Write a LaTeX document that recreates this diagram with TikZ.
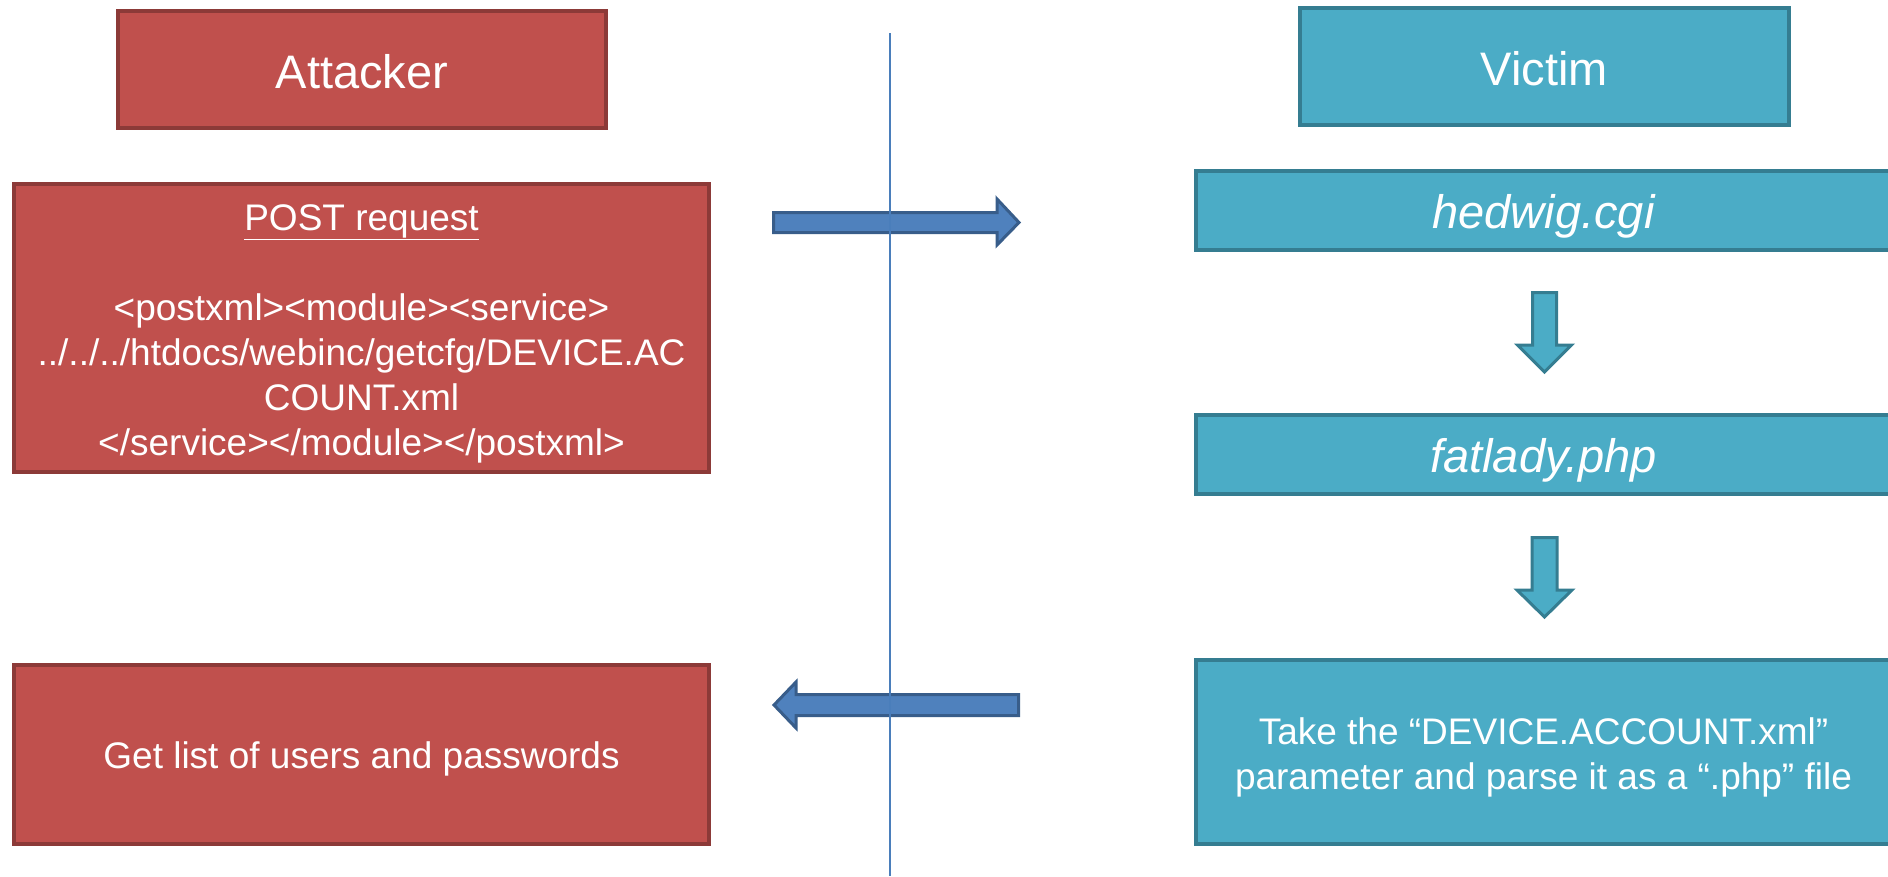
\documentclass[tikz,border=0pt]{standalone}
\usepackage{fontspec}
\setmainfont{Liberation Sans}
\definecolor{redfill}{HTML}{C0504D}
\definecolor{redline}{HTML}{8C3A38}
\definecolor{bluefill}{HTML}{4BACC6}
\definecolor{blueline}{HTML}{357D91}
\definecolor{arrfill}{HTML}{4F81BD}
\definecolor{arrline}{HTML}{385D8A}
\definecolor{sepline}{HTML}{4A7EBB}
\newcommand\fnbig{\fontsize{47}{56}\selectfont}
\newcommand\fnbody{\fontsize{37}{45}\selectfont}
\tikzset{
  redbox/.style={draw=redline, fill=redfill, line width=4pt, text=white, inner sep=0pt, align=center, text depth=0pt},
  bluebox/.style={draw=blueline, fill=bluefill, line width=4pt, text=white, inner sep=0pt, align=center, text depth=0pt},
  sideflow/.style={draw=arrline, fill=arrfill, line width=3pt, line join=miter},
  downflow/.style={draw=blueline, fill=bluefill, line width=3pt, line join=miter},
  divider/.style={draw=sepline, line width=1.5pt}
}
\begin{document}
\begin{tikzpicture}[x=1pt,y=-1pt]
\useasboundingbox (0,0) rectangle (1888,876);
\clip (0,0) rectangle (1888,876);
% left column
\node[redbox, minimum width=488pt, minimum height=117pt, font=\fnbig, text height=37.5pt] (att) at (362,69.5) {Attacker};
\node[redbox, minimum width=695pt, minimum height=288pt, font=\fnbody, text height=255pt] (post) at (361.5,328)
  {\underline{POST request}\\[45pt] <postxml><module><service>\\ ../../../htdocs/webinc/getcfg/DEVICE.AC\\ COUNT.xml\\ </service></module></postxml>};
\node[redbox, minimum width=695pt, minimum height=179pt, font=\fnbody, text height=27.6pt] (get) at (361.5,754.5) {Get list of users and passwords};
% right column
\node[bluebox, minimum width=489pt, minimum height=117pt, font=\fnbig, text height=37pt] (vic) at (1544.5,66.5) {Victim};
\node[bluebox, minimum width=695pt, minimum height=79pt, font=\fnbig\itshape, text height=36.5pt] (hed) at (1543.5,210) {hedwig.cgi};
\node[bluebox, minimum width=695pt, minimum height=79pt, font=\fnbig\itshape, text height=37pt] (fat) at (1543.5,454) {fatlady.php};
\node[bluebox, minimum width=695pt, minimum height=184pt, font=\fnbody, text height=75.8pt] (take) at (1543.5,752)
  {Take the “DEVICE.ACCOUNT.xml”\\ parameter and parse it as a “.php” file};
% block arrows
\coordinate (ra) at (773.5,222.5);
\draw[sideflow] (ra) ++(0,-10) -- ++(223.5,0) -- ++(0,-13.5) -- (1019,222.5) -- (997,245) -- ++(0,-12.5) -- ++(-223.5,0) -- cycle;
\coordinate (la) at (1018.5,705);
\draw[sideflow] (la) ++(0,-10.5) -- ++(-222.5,0) -- ++(0,-12.5) -- (774,705) -- (796,728) -- ++(0,-12.5) -- ++(222.5,0) -- cycle;
\coordinate (d1) at (1544.5,292.5);
\draw[downflow] (d1) ++(-12,0) -- ++(0,52.5) -- ++(-15,0) -- (1544.5,372) -- (1571.5,345) -- ++(-15,0) -- ++(0,-52.5) -- cycle;
\coordinate (d2) at (1544.5,537.5);
\draw[downflow] (d2) ++(-12.5,0) -- ++(0,52.5) -- ++(-15,0) -- (1544.5,617) -- (1572,590) -- ++(-15,0) -- ++(0,-52.5) -- cycle;
% divider
\coordinate (dtop) at (890,33);
\coordinate (dbot) at (890,876);
\draw[divider] (dtop) -- (dbot);
\end{tikzpicture}
\end{document}
